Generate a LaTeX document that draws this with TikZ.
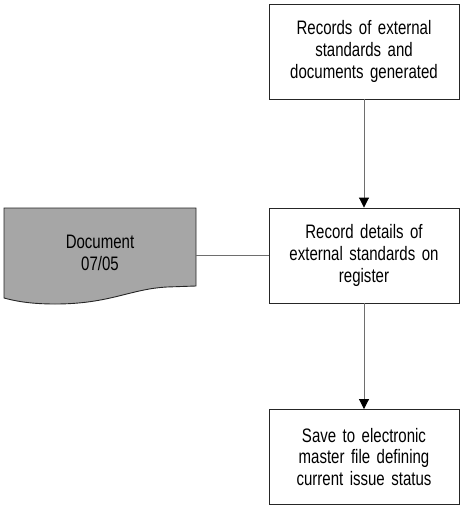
\documentclass[tikz,border=0pt]{standalone}
\usepackage{fontspec}
\setmainfont{Liberation Sans}[FakeStretch=0.77]
\usetikzlibrary{arrows.meta}
\definecolor{docgray}{RGB}{166,166,166}
\definecolor{linegray}{RGB}{110,110,110}
\begin{document}
\begin{tikzpicture}[x=1pt,y=-1pt,
  label text/.style={font=\fontsize{19.5}{21.7}\selectfont},
  proc/.style={draw=black!85, line width=0.9pt, fill=white,
    minimum width=190pt, minimum height=95pt, text width=180pt,
    align=center, inner sep=0pt, label text},
  link/.style={draw=linegray, line width=0.9pt},
  flow/.style={link, -{Triangle[width=10pt,length=10pt,color=black]}}]
  \useasboundingbox (0,0) rectangle (461,507);

  % document symbol with wavy lower edge
  \path[fill=docgray, draw=black!85, line width=0.9pt]
    (4,208) -- (196,208) -- (196,286) -- (167,287)
    .. controls (130,289) and (110,304) .. (55,304)
    .. controls (30,304) and (15,301) .. (4,298) -- cycle;
  \node[minimum width=192pt, minimum height=90pt, inner sep=0pt, align=center,
        label text] (doc) at (100,253) {Document\\07/05};

  % process boxes
  \node[proc] (rec) at (364,51.5) {Records of external\\standards and\\documents generated};
  \node[proc] (reg) at (364,255.5) {Record details of\\external standards on\\register};
  \node[proc] (save) at (364,457) {Save to electronic\\master file defining\\current issue status};

  % connectors
  \draw[flow] (rec.south) -- (reg.north);
  \draw[flow] (reg.south) -- (save.north);
  \draw[link] (reg.west) -- (reg.west -| doc.east);
\end{tikzpicture}
\end{document}
